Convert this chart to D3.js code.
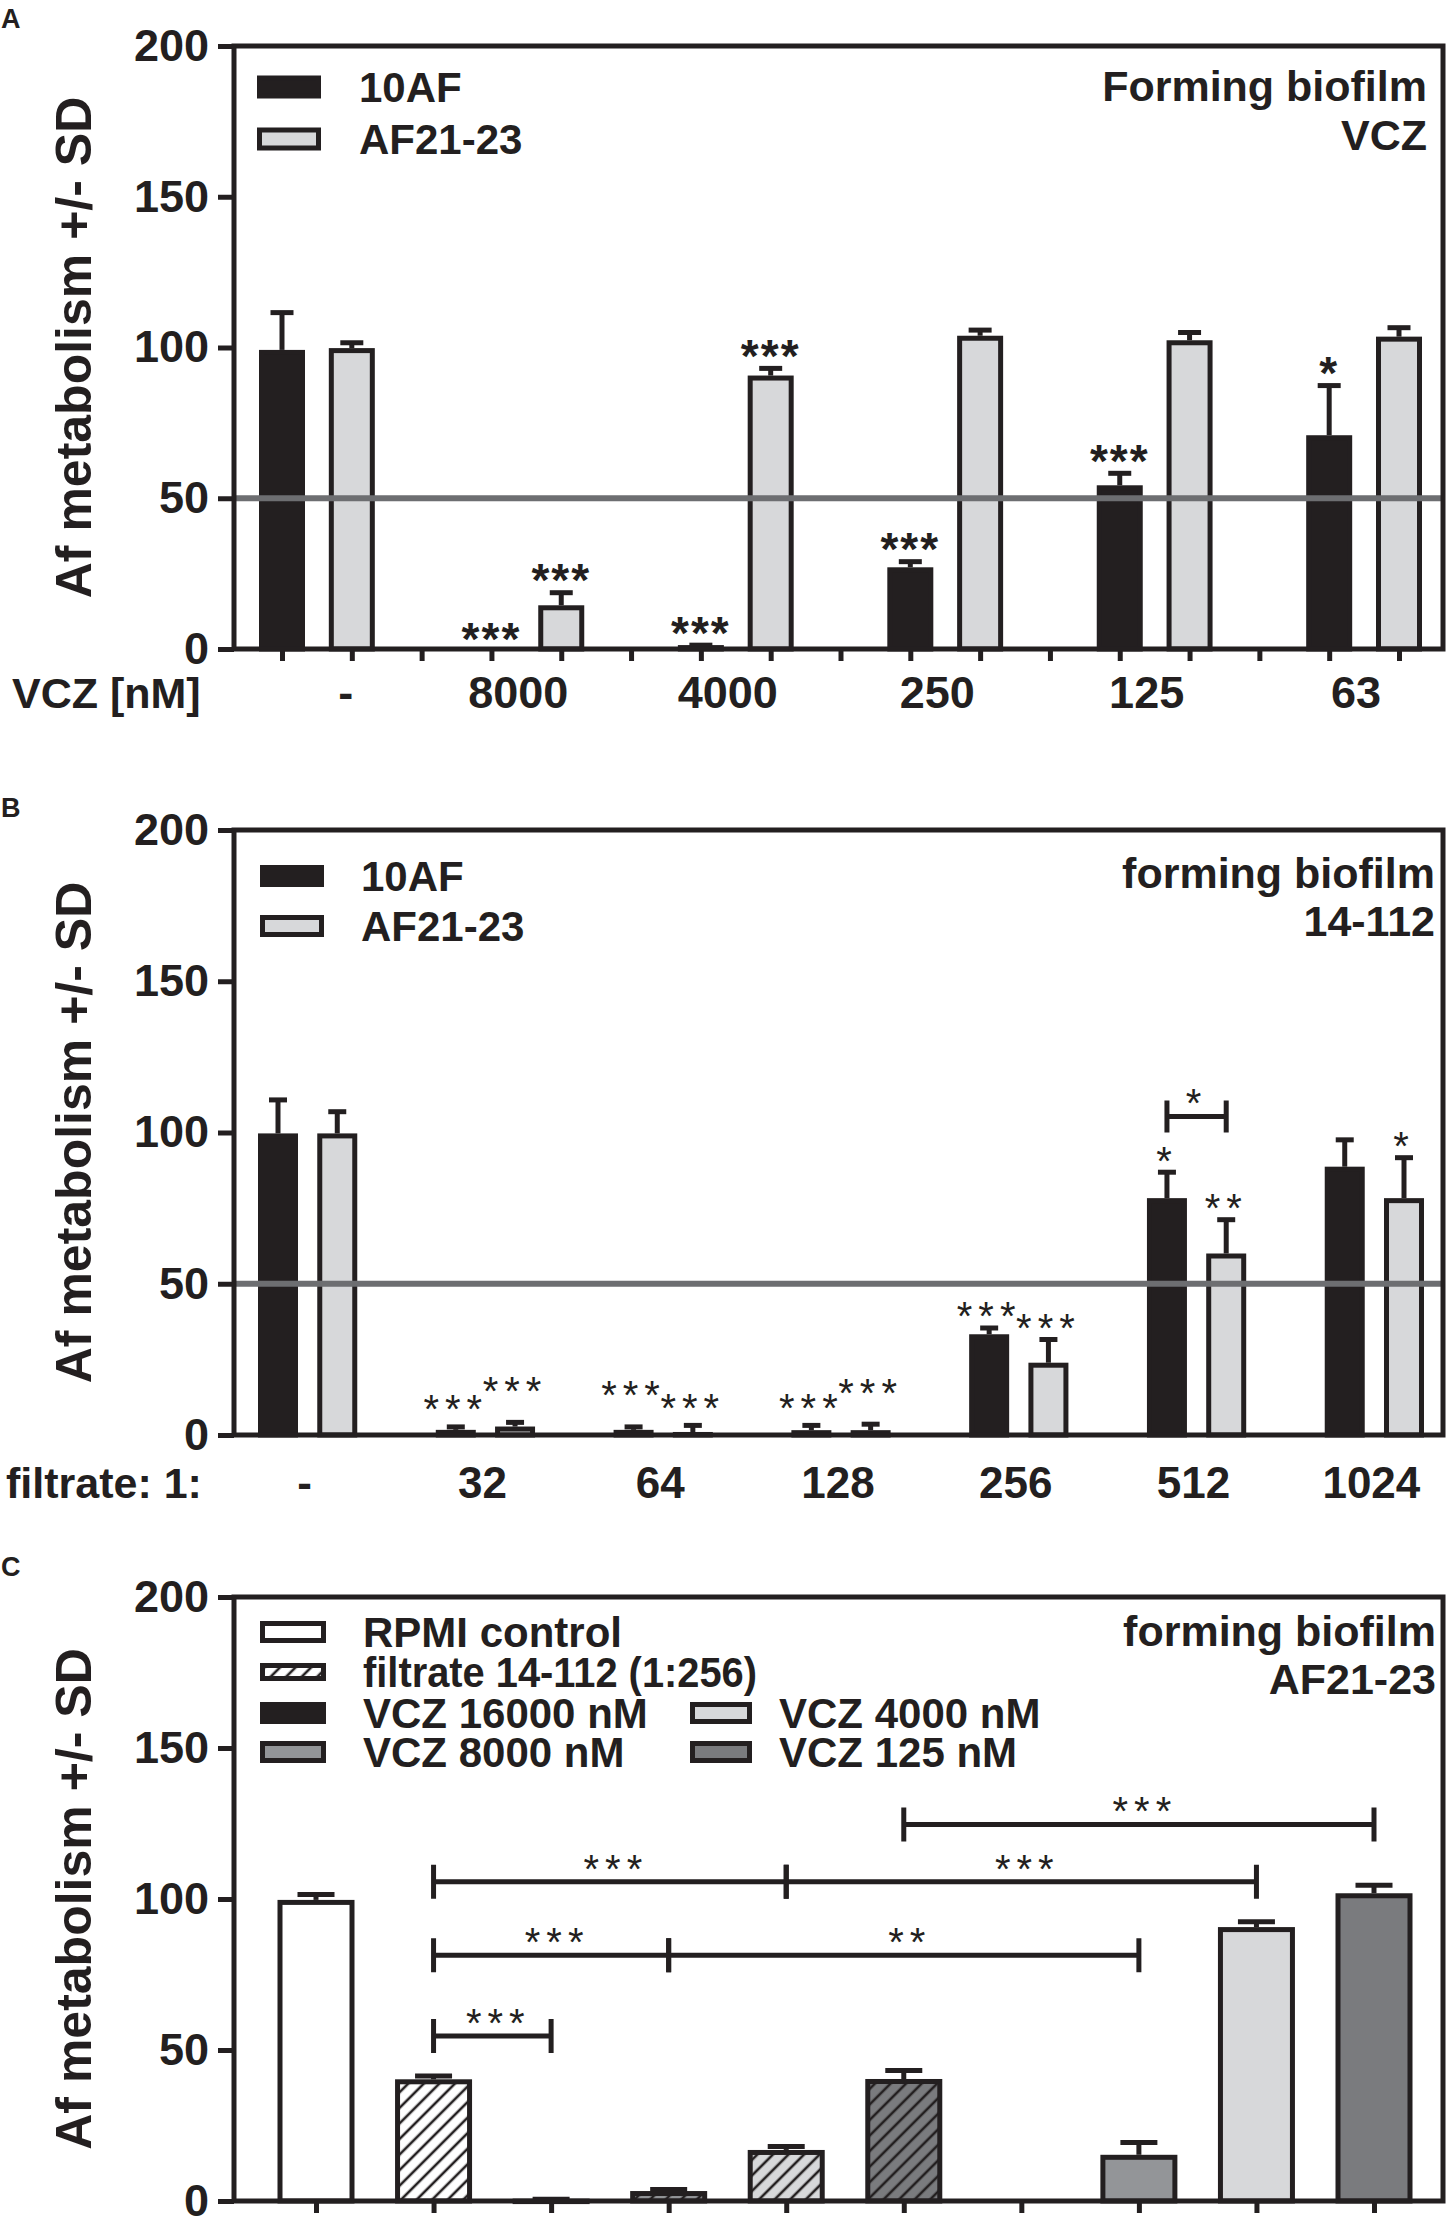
<!DOCTYPE html>
<html><head><meta charset="utf-8">
<script src="https://cdn.jsdelivr.net/npm/d3@7"></script>
<style>
body{margin:0;background:#fff}
svg text{font-family:"Liberation Sans",Arial,Helvetica,sans-serif;fill:#231f20}
</style>
</head><body>
<svg id="fig" width="1453" height="2219"></svg>
<script>
// ---------------- DATA ----------------
const yTicks = [0, 50, 100, 150, 200];
const strains = ["10AF", "AF21-23"];

// Panel A – VCZ
const aCategories = ["-", "8000", "4000", "250", "125", "63"];
const aXTitle = "VCZ [nM]";
const a10AF   = [99.2, 0,    1.3,  27.1, 54.3, 70.9];
const a10AFsd = [13.2, 0,    0.8,  2.7,  4.8,  17.3];
const aAF     = [99.8, 14.5, 90.7, 103.9, 102.4, 103.6];
const aAFsd   = [2.6,  5.0,  3.2,  2.7,  3.4,  3.8];
const aSig10AF = ["", "***", "***", "***", "***", "*"];
const aSigAF   = ["", "***", "***", "", "", ""];
const aNote = ["Forming biofilm", "VCZ"];

// Panel B – filtrate 14-112
const bCategories = ["-", "32", "64", "128", "256", "512", "1024"];
const bXTitle = "filtrate: 1:";
const b10AF   = [99.7, 1.7, 1.7, 1.6, 33.3, 78.3, 88.7];
const b10AFsd = [11.9, 1.8, 1.8, 2.4, 2.9,  9.4,  9.7];
const bAF     = [99.7, 2.8, 1.0, 1.6, 23.9, 60.0, 78.3];
const bAFsd   = [8.0,  2.2, 3.0, 2.8, 8.5,  12.0, 14.2];
const bSig10AF = ["", "***", "***", "***", "***", "*", ""];
const bSigAF   = ["", "***", "***", "***", "***", "**", "*"];
const bPairSig = [{cat: "512", level: 105.3, label: "*"}];
const bNote = ["forming biofilm", "14-112"];

// Panel C – AF21-23 combinations
const cGroups  = ["RPMI control", "filtrate 14-112 (1:256)",
  "VCZ 16000 nM + filtrate", "VCZ 8000 nM + filtrate", "VCZ 4000 nM + filtrate", "VCZ 125 nM + filtrate",
  "VCZ 16000 nM", "VCZ 8000 nM", "VCZ 4000 nM", "VCZ 125 nM"];
const cValues  = [99.7, 40.3, 0.8, 3.3, 16.9, 40.4, 0, 15.3, 90.7, 101.9];
const cSD      = [2.6,  1.9,  0.6, 1.3, 2.0,  3.6,  0, 4.9,  2.6,  3.5];
const cFillKey = ["white", "white", "black", "mid", "light", "dark", "black", "mid", "light", "dark"];
const cHatched = [false, true, true, true, true, true, false, false, false, false];
const cBrackets = [
  {from: 1, to: 2, level: 54.6,  label: "***"},
  {from: 1, to: 3, level: 81.4,  label: "***"},
  {from: 3, to: 7, level: 81.4,  label: "**"},
  {from: 1, to: 4, level: 105.7, label: "***"},
  {from: 4, to: 8, level: 105.7, label: "***"},
  {from: 5, to: 9, level: 124.7, label: "***"}
];
const cLegendCol1 = ["RPMI control", "filtrate 14-112 (1:256)", "VCZ 16000 nM", "VCZ 8000 nM"];
const cLegendCol1Fill = ["white", "white", "black", "mid"];
const cLegendCol1Hatch = [false, true, false, false];
const cLegendCol2 = ["VCZ 4000 nM", "VCZ 125 nM"];
const cLegendCol2Fill = ["light", "dark"];
const cNote = ["forming biofilm", "AF21-23"];

// ---------------- STYLE ----------------
const INK = "#231f20";
const COLORS = {white: "#ffffff", black: INK, light: "#d7d8da", mid: "#939598", dark: "#7a7b7e"};
const REF = "#6d6e71";
const SW = 5;
const FONT = '"Liberation Sans", Arial, Helvetica, sans-serif';

const svg = d3.select("#fig");
const defs = svg.append("defs");
["white", "black", "mid", "light", "dark"].forEach(k => {
  const p = defs.append("pattern").attr("id", "hatch-" + k)
    .attr("patternUnits", "userSpaceOnUse").attr("width", 11).attr("height", 11)
    .attr("patternTransform", "rotate(45)");
  p.append("rect").attr("width", 11).attr("height", 11).attr("fill", COLORS[k]);
  p.append("line").attr("x1", 2).attr("y1", 0).attr("x2", 2).attr("y2", 11)
    .attr("stroke", INK).attr("stroke-width", 2.6);
});
const fillOf = (k, h) => h ? `url(#hatch-${k})` : COLORS[k];

const LEFT = 234, RIGHT = 1443;

function panelBase(top, bottom, letter, letterY) {
  const g = svg.append("g");
  const y = d3.scaleLinear().domain([0, 200]).range([bottom, top]);
  svg.append("text").attr("x", 1).attr("y", letterY).text(letter)
    .attr("font-size", 27).attr("font-weight", "bold");
  svg.append("text").attr("transform", `translate(74,${(top + bottom) / 2}) rotate(-90)`)
    .attr("text-anchor", "middle").attr("dominant-baseline", "central")
    .attr("font-size", 50).attr("font-weight", "bold").text("Af metabolism +/- SD");
  return {g, y, top, bottom};
}

function yAxis(P) {
  const ax = svg.append("g").attr("transform", `translate(${LEFT},0)`)
    .call(d3.axisLeft(P.y).tickValues(yTicks).tickSize(16).tickPadding(9));
  ax.select(".domain").remove();
  ax.selectAll(".tick line").attr("stroke", INK).attr("stroke-width", SW);
  ax.selectAll(".tick text").attr("font-size", 45).attr("font-weight", "bold")
    .attr("font-family", FONT).attr("fill", INK);
}

function xTicks(P, x) {
  const ax = svg.append("g").attr("transform", `translate(0,${P.y(0)})`)
    .call(d3.axisBottom(x).tickSize(12).tickFormat(""));
  ax.select(".domain").remove();
  ax.selectAll(".tick line").attr("stroke", INK).attr("stroke-width", SW);
}

function frame(P) {
  svg.append("rect").attr("x", LEFT).attr("y", P.top).attr("width", RIGHT - LEFT)
    .attr("height", P.bottom - P.top).attr("fill", "none").attr("stroke", INK).attr("stroke-width", SW);
}

function refLine(P) {
  svg.append("line").attr("x1", LEFT).attr("x2", RIGHT).attr("y1", P.y(50)).attr("y2", P.y(50))
    .attr("stroke", REF).attr("stroke-width", 6);
}

function bar(P, cx, w, v, sd, fill, capW) {
  const y0 = P.y(0), yv = P.y(v);
  if (v > 0) {
    P.g.append("rect").attr("x", cx - w / 2 + SW / 2).attr("y", yv + SW / 2)
      .attr("width", w - SW).attr("height", Math.max(0.5, y0 - yv - SW / 2))
      .attr("fill", fill).attr("stroke", INK).attr("stroke-width", SW);
  }
  if (sd > 0) {
    const ye = P.y(v + sd);
    P.g.append("line").attr("x1", cx).attr("x2", cx).attr("y1", yv).attr("y2", ye + SW / 2)
      .attr("stroke", INK).attr("stroke-width", SW);
    P.g.append("line").attr("x1", cx - capW / 2).attr("x2", cx + capW / 2).attr("y1", ye + SW / 2).attr("y2", ye + SW / 2)
      .attr("stroke", INK).attr("stroke-width", SW);
  }
}

function stars(P, cx, yTop, label, bold) {
  if (!label) return;
  P.g.append("text").attr("x", cx).attr("y", yTop + (bold ? 6 : 5))
    .attr("text-anchor", "middle")
    .attr("font-size", bold ? 46 : 40).attr("font-weight", bold ? "bold" : "normal")
    .attr("letter-spacing", bold ? 2 : 6).text(label);
}

function legendItem(x, yc, w, h, fill, label, textX, fs, fitWidth) {
  svg.append("rect").attr("x", x + SW / 2).attr("y", yc - h / 2 + SW / 2)
    .attr("width", w - SW).attr("height", h - SW)
    .attr("fill", fill).attr("stroke", INK).attr("stroke-width", SW);
  const t = svg.append("text").attr("x", textX).attr("y", yc + 15).attr("font-size", fs)
    .attr("font-weight", "bold").text(label);
  if (fitWidth) t.attr("textLength", fitWidth).attr("lengthAdjust", "spacingAndGlyphs");
}

function note(lines, xr, y1, y2) {
  [y1, y2].forEach((yy, i) => svg.append("text").attr("x", xr).attr("y", yy)
    .attr("text-anchor", "end").attr("font-size", 43).attr("font-weight", "bold").text(lines[i]));
}

// ---------------- PANEL A ----------------
(function () {
  const P = panelBase(46, 649, "A", 28);
  const slots = [];
  aCategories.forEach((c, i) => {
    slots.push(i + ":0", i + ":1");
    if (i < aCategories.length - 1) slots.push(i + ":gap");
  });
  const x = d3.scalePoint().domain(slots).range([282, 1399]);
  aCategories.forEach((c, i) => {
    const x0 = x(i + ":0"), x1 = x(i + ":1");
    bar(P, x0, 46, a10AF[i], a10AFsd[i], COLORS.black, 23);
    bar(P, x1, 46, aAF[i], aAFsd[i], COLORS.light, 23);
    stars(P, x0, P.y(a10AF[i] + a10AFsd[i]), aSig10AF[i], true);
    stars(P, x1, P.y(aAF[i] + aAFsd[i]), aSigAF[i], true);
    // the control label "-" sits under the second bar in the original figure
    const lx = c === "-" ? x1 - 6 : (x0 + x1) / 2 - 8;
    svg.append("text").attr("x", lx).attr("y", 708).attr("text-anchor", "middle")
      .attr("font-size", 45).attr("font-weight", "bold").text(c);
  });
  svg.append("text").attr("x", 12).attr("y", 708).attr("font-size", 43).attr("font-weight", "bold").text(aXTitle);
  refLine(P);
  xTicks(P, x);
  yAxis(P);
  frame(P);
  legendItem(257, 87, 64, 23, COLORS.black, strains[0], 359, 42);
  legendItem(257, 139, 64, 23, COLORS.light, strains[1], 359, 42);
  note(aNote, 1427, 101, 150);
})();

// ---------------- PANEL B ----------------
(function () {
  const P = panelBase(830, 1435, "B", 817);
  const slots = [];
  bCategories.forEach((c, i) => {
    slots.push(i + ":0", i + ":1");
    if (i < bCategories.length - 1) slots.push(i + ":gap");
  });
  const x = d3.scalePoint().domain(slots).range([278, 1404]);
  bCategories.forEach((c, i) => {
    const x0 = x(i + ":0"), x1 = x(i + ":1");
    bar(P, x0, 40, b10AF[i], b10AFsd[i], COLORS.black, 18);
    bar(P, x1, 40, bAF[i], bAFsd[i], COLORS.light, 18);
    // neighbouring star labels near the baseline are staggered so they do not collide
    const crowded = bSig10AF[i] && bSigAF[i] && b10AF[i] < 10 && bAF[i] < 10;
    const lift0 = crowded && i % 2 === 0 ? 14 : 0;
    const lift1 = crowded && i % 2 === 1 ? 14 : 0;
    stars(P, x0, P.y(b10AF[i] + b10AFsd[i]) - lift0 - (crowded ? 6 : 0), bSig10AF[i], false);
    stars(P, x1, P.y(bAF[i] + bAFsd[i]) - lift1 - (crowded ? 6 : 0), bSigAF[i], false);
    svg.append("text").attr("x", (x0 + x1) / 2 - 3).attr("y", 1498).attr("text-anchor", "middle")
      .attr("font-size", 44).attr("font-weight", "bold").text(c);
  });
  bPairSig.forEach(s => {
    const i = bCategories.indexOf(s.cat);
    const x0 = x(i + ":0"), x1 = x(i + ":1"), yy = P.y(s.level);
    const path = d3.path();
    path.moveTo(x0, yy - 16); path.lineTo(x0, yy + 16);
    path.moveTo(x0, yy); path.lineTo(x1, yy);
    path.moveTo(x1, yy - 16); path.lineTo(x1, yy + 16);
    P.g.append("path").attr("d", path.toString()).attr("fill", "none").attr("stroke", INK).attr("stroke-width", SW);
    stars(P, (x0 + x1) / 2, yy - 4, s.label, false);
  });
  svg.append("text").attr("x", 6).attr("y", 1498).attr("font-size", 43).attr("font-weight", "bold").text(bXTitle);
  refLine(P);
  yAxis(P);
  frame(P);
  legendItem(260, 876, 64, 22, COLORS.black, strains[0], 361, 42);
  legendItem(260, 926, 64, 22, COLORS.light, strains[1], 361, 42);
  note(bNote, 1435, 888, 936);
})();

// ---------------- PANEL C ----------------
(function () {
  const P = panelBase(1597, 2201, "C", 1576);
  const x = d3.scalePoint().domain(cGroups).range([316, 1374]);
  cGroups.forEach((c, i) => {
    bar(P, x(c), 77, cValues[i], cSD[i], fillOf(cFillKey[i], cHatched[i]), 37);
  });
  cBrackets.forEach(b => {
    const x0 = x(cGroups[b.from]), x1 = x(cGroups[b.to]), yy = P.y(b.level);
    const path = d3.path();
    path.moveTo(x0, yy - 17); path.lineTo(x0, yy + 17);
    path.moveTo(x0, yy); path.lineTo(x1, yy);
    path.moveTo(x1, yy - 17); path.lineTo(x1, yy + 17);
    P.g.append("path").attr("d", path.toString()).attr("fill", "none").attr("stroke", INK).attr("stroke-width", SW);
    stars(P, (x0 + x1) / 2 + 6, yy - 4, b.label, false);
  });
  xTicks(P, x);
  yAxis(P);
  frame(P);
  const rows = [1632, 1672, 1713, 1752];
  cLegendCol1.forEach((l, i) => legendItem(260, rows[i], 66, cLegendCol1Hatch[i] ? 18 : 22,
    fillOf(cLegendCol1Fill[i], cLegendCol1Hatch[i]), l, 363, 42, cLegendCol1Hatch[i] ? 394 : null));
  cLegendCol2.forEach((l, i) => legendItem(690, rows[i + 2], 62, 22,
    fillOf(cLegendCol2Fill[i], false), l, 779, 42));
  note(cNote, 1436, 1646, 1694);
})();
</script>
</body></html>
